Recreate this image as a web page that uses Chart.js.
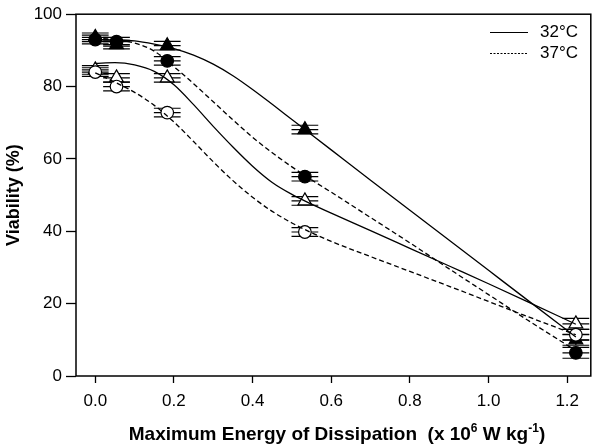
<!DOCTYPE html>
<html>
<head>
<meta charset="utf-8">
<script src="https://cdn.jsdelivr.net/npm/chart.js@4.4.0/dist/chart.umd.min.js"></script>
<style>
  html, body { margin: 0; padding: 0; background: #fff; }
</style>
</head>
<body>
<canvas id="chart" width="600" height="448"></canvas>
<script>
// Measured points (x = max energy of dissipation, x 10^6 W/kg)
const xVals = [0, 0.054, 0.183, 0.533, 1.222];
const filledTri = [93.6, 91.6, 91.3, 68.1, 10.0];
const filledCirc = [93.0, 92.4, 87.1, 55.1, 6.4];
const openTri = [84.6, 82.4, 82.4, 48.4, 14.4];
const openCirc = [84.0, 80.0, 72.8, 39.8, 11.4];
const yErr = [1.2, 1.2, 1.2, 1.2, 1.5];
const xErr = [0.034, 0.034, 0.034, 0.034, 0.034];

// Fitted curves
const fitX = [0, 0.05, 0.1, 0.15, 0.2, 0.25, 0.3, 0.35, 0.4, 0.45, 0.5, 0.55, 0.6, 0.7, 0.8, 0.9, 1.0, 1.1, 1.222];
const fitFilledTri = [93.0, 92.9, 92.6, 91.7, 90.5, 88.7, 86.2, 83.0, 79.2, 75.1, 70.9, 66.7, 62.5, 54.1, 45.8, 37.5, 29.2, 20.9, 10.8];
const fitFilledCirc = [93.3, 93.0, 92.0, 89.8, 85.5, 80.8, 75.8, 70.8, 66.0, 61.7, 57.8, 54.2, 50.8, 43.8, 36.8, 29.6, 22.5, 15.4, 7.0];
const fitOpenTri = [86.4, 86.6, 86.0, 84.2, 80.5, 75.0, 69.0, 63.3, 58.0, 53.5, 50.2, 47.5, 45.0, 40.2, 35.3, 30.4, 25.5, 20.5, 14.3];
const fitOpenCirc = [83.8, 81.2, 78.4, 74.8, 70.2, 64.8, 59.2, 54.0, 49.4, 45.5, 42.3, 39.6, 37.2, 33.0, 28.9, 24.8, 20.6, 16.4, 11.4];

const xTicks = [0, 0.2, 0.4, 0.6, 0.8, 1.0, 1.2];
const yTicks = [0, 20, 40, 60, 80, 100];
const legendLabels = ['32°C', '37°C'];

const FONT = '"Liberation Sans", Arial, sans-serif';

function pts(xs, ys) {
    return xs.map((x, i) => ({ x: x, y: ys[i] }));
}

function fitSet(ys, dashed) {
    return {
        data: pts(fitX, ys),
        showLine: true,
        pointRadius: 0,
        borderColor: '#000',
        borderWidth: 1.3,
        borderDash: dashed ? [5, 3] : [],
        cubicInterpolationMode: 'monotone',
        fill: false
    };
}

function markerSet(ys, style, filled, radius) {
    return {
        data: pts(xVals, ys),
        pointStyle: style,
        pointRadius: radius,
        pointBackgroundColor: filled ? '#000' : '#fff',
        pointBorderColor: '#000',
        pointBorderWidth: 1.2,
        showLine: false,
        errorBars: true
    };
}

// Error bars, drawn just before each marker dataset
const errorBarPlugin = {
    id: 'errorBars',
    beforeDatasetDraw(chart, args) {
        const ds = chart.data.datasets[args.index];
        if (!ds.errorBars) return;
        const ctx = chart.ctx;
        const xs = chart.scales.x, ys = chart.scales.y;
        ctx.save();
        ctx.strokeStyle = '#000';
        ctx.lineWidth = 1.2;
        ds.data.forEach((p, i) => {
            const px = xs.getPixelForValue(p.x);
            const py = ys.getPixelForValue(p.y);
            const xl = xs.getPixelForValue(p.x - xErr[i]);
            const xr = xs.getPixelForValue(p.x + xErr[i]);
            const yt = ys.getPixelForValue(p.y + yErr[i]);
            const yb = ys.getPixelForValue(p.y - yErr[i]);
            ctx.beginPath();
            ctx.moveTo(xl, py); ctx.lineTo(xr, py);
            ctx.moveTo(xl, yt); ctx.lineTo(xr, yt);
            ctx.moveTo(xl, yb); ctx.lineTo(xr, yb);
            ctx.moveTo(px, yt); ctx.lineTo(px, yb);
            ctx.stroke();
        });
        ctx.restore();
    }
};

const framePlugin = {
    id: 'frame',
    afterDraw(chart) {
        const ctx = chart.ctx;
        const a = chart.chartArea;
        ctx.save();
        ctx.strokeStyle = '#000';
        ctx.lineWidth = 1.5;
        ctx.strokeRect(a.left, a.top, a.right - a.left, a.bottom - a.top);

        // legend
        ctx.lineWidth = 1;
        ctx.font = '17px ' + FONT;
        ctx.fillStyle = '#000';
        ctx.textBaseline = 'middle';
        ctx.textAlign = 'left';
        const rows = [32, 53];
        rows.forEach((y, i) => {
            ctx.beginPath();
            ctx.setLineDash(i === 0 ? [] : [2, 1.5]);
            ctx.moveTo(490, y + 0.5);
            ctx.lineTo(528, y + 0.5);
            ctx.stroke();
            ctx.setLineDash([]);
            ctx.fillText(legendLabels[i], 540, y);
        });

        // y axis title
        ctx.save();
        ctx.translate(14, (a.top + a.bottom) / 2);
        ctx.rotate(-Math.PI / 2);
        ctx.font = 'bold 18px ' + FONT;
        ctx.textAlign = 'center';
        ctx.fillText('Viability (%)', 0, 0);
        ctx.restore();

        // x axis title with superscripts
        const parts = [
            ['Maximum Energy of Dissipation  (x 10', false],
            ['6', true],
            [' W kg', false],
            ['-1', true],
            [')', false]
        ];
        const big = 'bold 19px ' + FONT, small = 'bold 12px ' + FONT;
        let total = 0;
        parts.forEach(p => { ctx.font = p[1] ? small : big; total += ctx.measureText(p[0]).width; });
        let x = 337 - total / 2;
        const base = 440;
        ctx.textAlign = 'left';
        ctx.textBaseline = 'alphabetic';
        parts.forEach(p => {
            ctx.font = p[1] ? small : big;
            ctx.fillText(p[0], x, p[1] ? base - 8 : base);
            x += ctx.measureText(p[0]).width;
        });
        ctx.restore();
    }
};

new Chart(document.getElementById('chart'), {
    type: 'scatter',
    data: {
        datasets: [
            fitSet(fitFilledTri, false),
            fitSet(fitOpenTri, false),
            fitSet(fitFilledCirc, true),
            fitSet(fitOpenCirc, true),
            markerSet(openCirc, 'circle', false, 6.3),
            markerSet(openTri, 'triangle', false, 8),
            markerSet(filledCirc, 'circle', true, 6.3),
            markerSet(filledTri, 'triangle', true, 8)
        ]
    },
    options: {
        responsive: false,
        animation: false,
        layout: { padding: { top: 7, right: 5, left: 0, bottom: 0 } },
        plugins: {
            legend: { display: false },
            tooltip: { enabled: false }
        },
        scales: {
            x: {
                type: 'linear',
                min: -0.049,
                max: 1.26,
                afterBuildTicks: (s) => { s.ticks = xTicks.map(v => ({ value: v })); },
                afterFit: (s) => { s.height = 72; },
                border: { display: false },
                grid: { drawOnChartArea: false, tickLength: 7, tickColor: '#000', tickWidth: 1.3 },
                ticks: {
                    color: '#000',
                    font: { family: FONT, size: 17 },
                    padding: 8,
                    maxRotation: 0,
                    callback: (v) => v.toFixed(1)
                }
            },
            y: {
                type: 'linear',
                min: 0,
                max: 100,
                afterBuildTicks: (s) => { s.ticks = yTicks.map(v => ({ value: v })); },
                afterFit: (s) => { s.width = 76; },
                border: { display: false },
                grid: { drawOnChartArea: false, tickLength: 10, tickColor: '#000', tickWidth: 1.3 },
                ticks: {
                    color: '#000',
                    font: { family: FONT, size: 17 },
                    padding: 4
                }
            }
        }
    },
    plugins: [errorBarPlugin, framePlugin]
});
</script>
</body>
</html>
